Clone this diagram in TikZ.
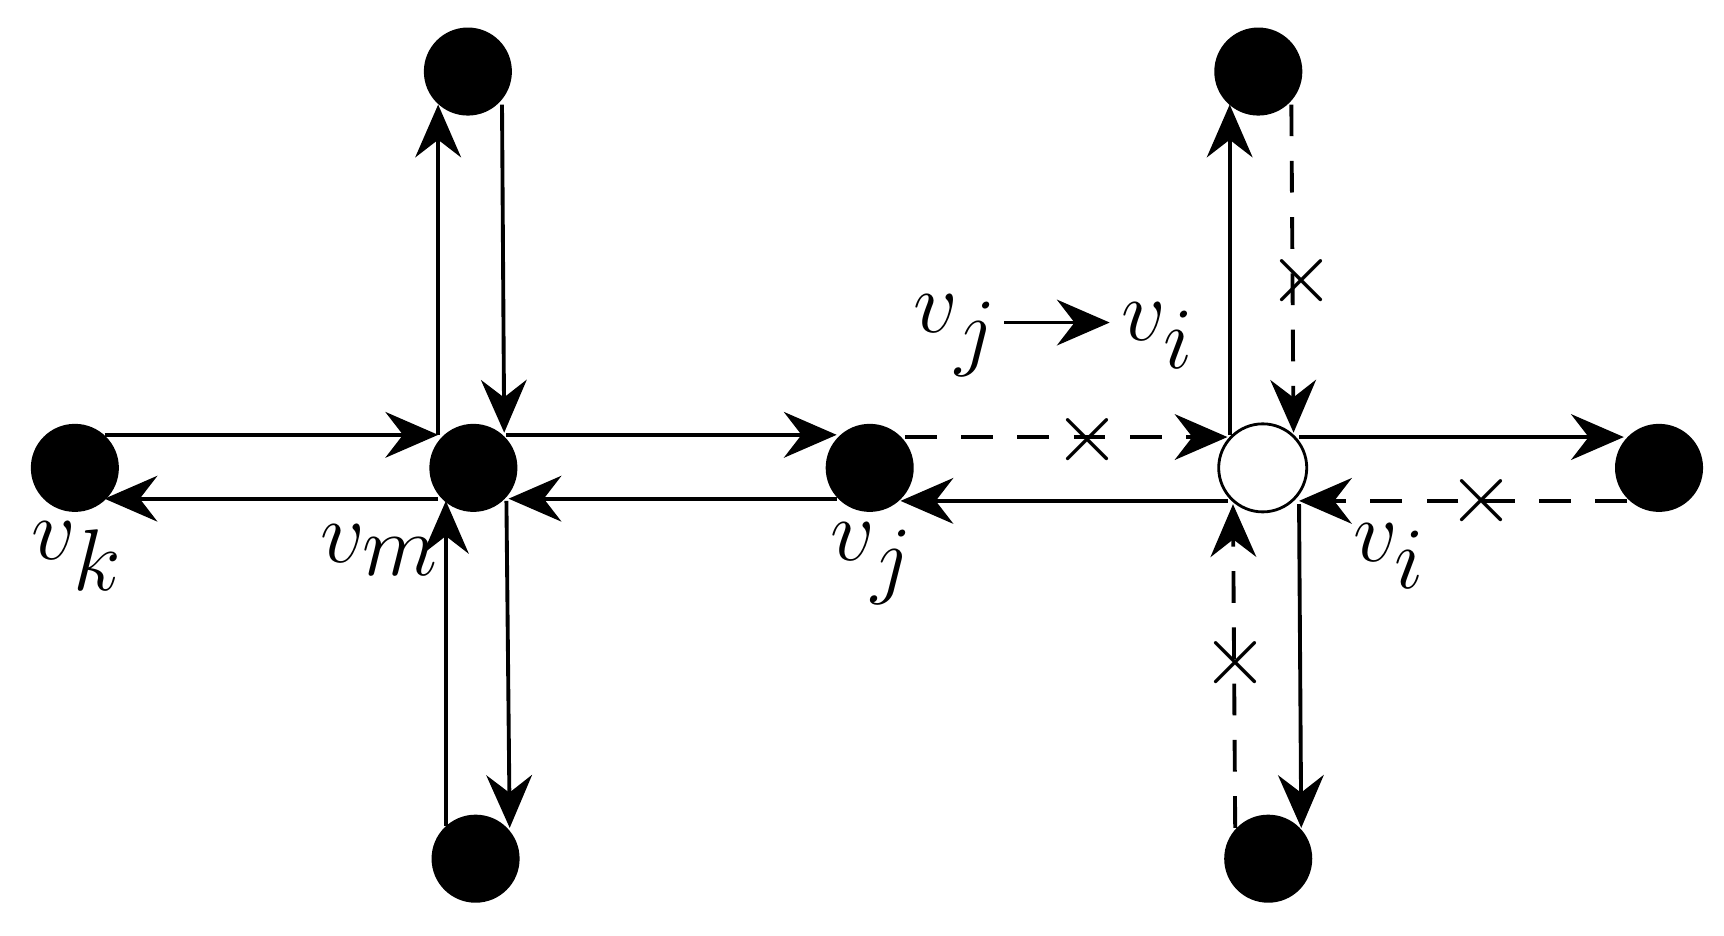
\documentclass[tikz,border=0pt]{standalone}
\usetikzlibrary{arrows.meta}
\begin{document}
\begin{tikzpicture}[x=0.011cm,y=-0.011cm,
  dot/.style={circle,fill=black,minimum size=0.88cm,inner sep=0pt},
  wdot/.style={circle,draw=black,fill=white,minimum size=0.88cm,inner sep=0pt,line width=0.8pt},
  ed/.style={line width=1.1pt,-{Stealth[length=15pt,width=13pt,inset=5pt]}},
  dd/.style={ed,dash pattern=on 9pt off 7pt},
  lab/.style={font=\fontsize{40}{48}\selectfont},
  cr/.style={font=\fontsize{26}{30}\selectfont,inner sep=0pt}]
\useasboundingbox (0,0) rectangle (1566,850);
% arrows first
\coordinate (a1) at (95,395); \coordinate (a2) at (398,395);
\draw[ed] (a1) -- (a2);
\coordinate (b1) at (398,453); \coordinate (b2) at (95,453);
\draw[ed] (b1) -- (b2);
\coordinate (c1) at (460,395); \coordinate (c2) at (760,395);
\draw[ed] (c1) -- (c2);
\coordinate (d1) at (760,453); \coordinate (d2) at (462,453);
\draw[ed] (d1) -- (d2);
\coordinate (e1) at (398,395); \coordinate (e2) at (398,95);
\draw[ed] (e1) -- (e2);
\coordinate (f1) at (456,95); \coordinate (f2) at (458,393);
\draw[ed] (f1) -- (f2);
\coordinate (g1) at (405,750); \coordinate (g2) at (405,455);
\draw[ed] (g1) -- (g2);
\coordinate (h1) at (460,455); \coordinate (h2) at (463,752);
\draw[ed] (h1) -- (h2);
\coordinate (i1) at (822,397); \coordinate (i2) at (1115,397);
\draw[dd] (i1) -- (i2);
\coordinate (j1) at (1115,455); \coordinate (j2) at (818,455);
\draw[ed] (j1) -- (j2);
\coordinate (k1) at (1117,395); \coordinate (k2) at (1117,95);
\draw[ed] (k1) -- (k2);
\coordinate (l1) at (1173,95); \coordinate (l2) at (1175,393);
\draw[dd] (l1) -- (l2);
\coordinate (m1) at (1180,397); \coordinate (m2) at (1475,397);
\draw[ed] (m1) -- (m2);
\coordinate (n1) at (1478,455); \coordinate (n2) at (1180,455);
\draw[dd] (n1) -- (n2);
\coordinate (o1) at (1122,752); \coordinate (o2) at (1120,458);
\draw[dd] (o1) -- (o2);
\coordinate (p1) at (1180,458); \coordinate (p2) at (1182,752);
\draw[ed] (p1) -- (p2);
% nodes
\node[dot] (vk) at (68,425) {};
\node[dot] (vm) at (430,425) {};
\node[dot] (tl) at (425,65) {};
\node[dot] (bl) at (432,780) {};
\node[dot] (vj) at (790,425) {};
\node[wdot] (vi) at (1147,425) {};
\node[dot] (tr) at (1143,65) {};
\node[dot] (br) at (1152,780) {};
\node[dot] (rr) at (1507,425) {};
% crosses
\node[cr] (x1) at (988,399) {$\times$};
\node[cr] (x2) at (1182,255) {$\times$};
\node[cr] (x3) at (1346,455) {$\times$};
\node[cr] (x4) at (1122,602) {$\times$};
% labels
\node[lab] (lk) at (70,505) {$v_k$};
\node[lab] (lm) at (345,500) {$v_m$};
\node[lab] (lj) at (792,512) {$v_j$};
\node[lab] (li) at (1262,505) {$v_i$};
\node[lab] (t1) at (868,305) {$v_j$};
\node[lab] (t2) at (1052,305) {$v_i$};
\draw[line width=1.1pt,-{Stealth[length=15pt,width=13pt,inset=5pt]}] (912,293) -- (1008,293);
\end{tikzpicture}
\end{document}
